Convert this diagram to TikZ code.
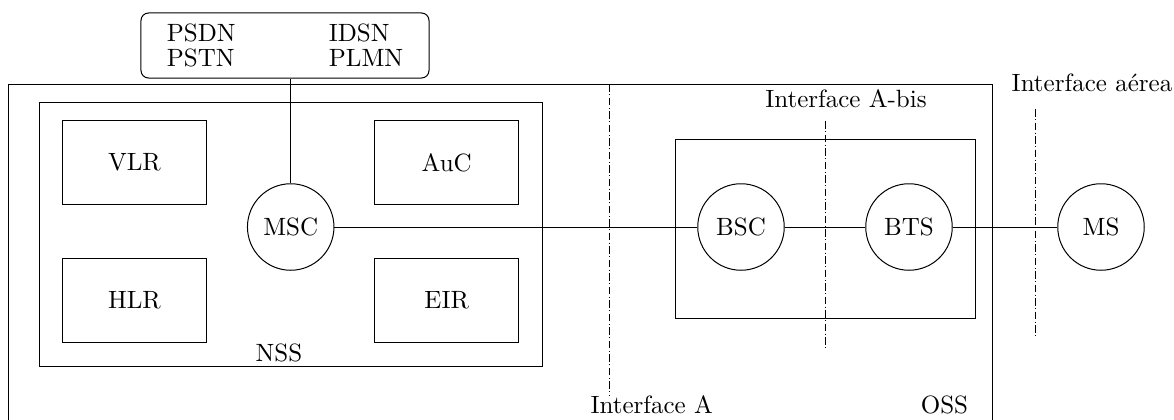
\documentclass[tikz,border=0pt]{standalone}

\begin{document}
\begin{tikzpicture}[x=0.4pt, y=-0.4pt,
    caixa/.style={draw, minimum width=57.8pt, minimum height=33.4pt},
    no/.style={draw, circle, minimum size=34.6pt, inner sep=0pt},
    interface/.style={densely dash dot},
    rotulo/.style={anchor=base, inner sep=0pt}]
    \clip (0,0) rectangle (1174,420);

    % subsistemas
    \draw (8.3,84.3) rectangle (992.8,440);
    \draw (39,102.7) rectangle (542.5,366.7);
    \draw (675,139) rectangle (975.5,318.5);

    \node[draw, rounded corners=3pt, minimum width=115.2pt, minimum height=26pt, text depth=0pt] (redes) at (285,45.5)
        {\def\arraystretch{0.8}\begin{tabular}[b]{@{}l@{\hspace{37.3pt}}l@{}}
            PSDN & IDSN\\
            PSTN & PLMN
        \end{tabular}};

    \node[caixa] (vlr) at (134.5,162.5) {VLR};
    \node[caixa] (auc) at (446.7,162.5) {AuC};
    \node[caixa] (hlr) at (134.5,300.5) {HLR};
    \node[caixa] (eir) at (446.7,300.5) {EIR};

    \node[no] (msc) at (290.7,227) {MSC};
    \node[no] (bsc) at (741,227) {BSC};
    \node[no] (bts) at (909,227) {BTS};
    \node[no] (ms) at (1101,227) {MS};

    \node[rotulo] (nss) at (279,361.5) {NSS};
    \node[rotulo] (oss) at (944.5,413) {OSS};

    % interfaces
    \draw[interface] (609,84.3) -- (609,395);
    \draw[interface] (825,121) -- (825,348.5);
    \draw[interface] (1035,109) -- (1035,337);
    \node[rotulo] (ifa) at (651.7,413) {Interface A};
    \node[rotulo] (ifabis) at (846,108) {Interface A-bis};
    \node[rotulo] (ifaerea) at (1092,91.7) {Interface aérea};

    % ligacoes
    \draw (msc) -- (msc |- redes.south);
    \draw (msc) -- (bsc);
    \draw (bsc) -- (bts);
    \draw (bts) -- (ms);
\end{tikzpicture}
\end{document}
